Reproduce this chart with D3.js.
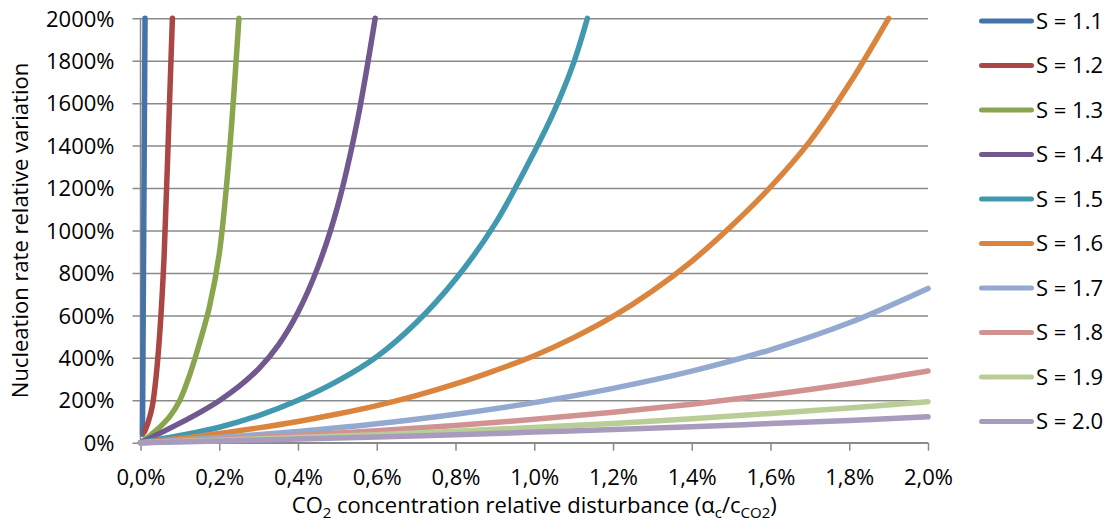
<!DOCTYPE html>
<html>
<head>
<meta charset="utf-8">
<script src="https://cdn.jsdelivr.net/npm/d3@7"></script>
<style>
  html, body { margin: 0; padding: 0; background: #fff; }
  svg { display: block; font-family: "Open Sans", "Liberation Sans", sans-serif; }
</style>
</head>
<body>
<svg id="chart" width="1114" height="529"></svg>
<script>
// ---------- data ----------
const seriesNames = ["S = 1.1","S = 1.2","S = 1.3","S = 1.4","S = 1.5","S = 1.6","S = 1.7","S = 1.8","S = 1.9","S = 2.0"];
const seriesColors = ["#4572A7","#AA4643","#89A54E","#71588F","#4198AF","#DB843D","#93A9CF","#D19392","#B9CD96","#A99BBD"];

// x = CO2 concentration relative disturbance (%), v = nucleation rate relative variation (%)
const xS11 = [0.005, 0.0115];
const vS11 = [40, 2000];
const xS12 = [0.01, 0.02, 0.03, 0.04, 0.05, 0.06, 0.07, 0.081];
const vS12 = [50, 100, 172, 318, 545, 880, 1400, 2000];
const xS13 = [0, 0.025, 0.05, 0.075, 0.1, 0.125, 0.15, 0.175, 0.2, 0.225, 0.25];
const vS13 = [0, 35, 75, 125, 200, 320, 470, 640, 890, 1350, 2000];
const xS14 = [0, 0.05, 0.1, 0.15, 0.2, 0.25, 0.3, 0.35, 0.4, 0.45, 0.5, 0.55, 0.596];
const vS14 = [0, 45, 92, 142, 198, 265, 348, 460, 615, 825, 1110, 1510, 2000];
const xS15 = [0, 0.1, 0.2, 0.3, 0.4, 0.5, 0.6, 0.7, 0.8, 0.9, 1.0, 1.05, 1.1, 1.135];
const vS15 = [0, 34, 73, 128, 200, 290, 405, 565, 770, 1030, 1370, 1560, 1790, 2000];
const xS16 = [0, 0.1, 0.2, 0.3, 0.4, 0.5, 0.6, 0.7, 0.8, 0.9, 1.0, 1.1, 1.2, 1.3, 1.4, 1.5, 1.6, 1.7, 1.8, 1.9];
const vS16 = [0, 20, 44, 70, 100, 135, 175, 222, 277, 340, 410, 495, 595, 715, 855, 1020, 1205, 1420, 1690, 2000];
const xGrid = [0, 0.2, 0.4, 0.6, 0.8, 1.0, 1.2, 1.4, 1.6, 1.8, 2.0];
const vS17 = [0, 24, 53, 89, 134, 189, 256, 337, 438, 565, 727];
const vS18 = [0, 16, 34, 56, 81, 110, 143, 181, 226, 278, 338];
const vS19 = [0, 12, 24, 38, 54, 72, 91, 113, 138, 164, 193];
const vS20 = [0, 8, 17, 27, 38, 50, 62, 75, 90, 105, 122];

const seriesX = [xS11, xS12, xS13, xS14, xS15, xS16, xGrid, xGrid, xGrid, xGrid];
const seriesV = [vS11, vS12, vS13, vS14, vS15, vS16, vS17, vS18, vS19, vS20];

const xTicks = [0, 0.2, 0.4, 0.6, 0.8, 1.0, 1.2, 1.4, 1.6, 1.8, 2.0];
const yTicks = [0, 200, 400, 600, 800, 1000, 1200, 1400, 1600, 1800, 2000];

// ---------- layout ----------
const plot = { left: 140.5, right: 928, top: 18.3, bottom: 442.7 };
const svg = d3.select("#chart");

const x = d3.scaleLinear().domain([0, 2]).range([plot.left, plot.right]);
const y = d3.scaleLinear().domain([0, 2000]).range([plot.bottom, plot.top]);

const gridColor = "#8a8a8a";
const fontSize = 22;

// horizontal gridlines (with left tick extension) via axis
const yAxis = d3.axisLeft(y).tickValues(yTicks)
  .tickSize(-(plot.right - plot.left))
  .tickFormat(d => d + "%");
const gy = svg.append("g").attr("transform", `translate(${plot.left},0)`).call(yAxis);
gy.select(".domain").remove();
gy.selectAll(".tick line").attr("stroke", gridColor).attr("stroke-width", 1.5).attr("x1", -8);
gy.selectAll(".tick text")
  .attr("x", -26).attr("dy", "0.35em")
  .attr("fill", "#000").style("font-size", fontSize + "px")
  .style("font-family", '"Open Sans", sans-serif');

// x axis
const xAxis = d3.axisBottom(x).tickValues(xTicks).tickSize(8)
  .tickFormat(d => d3.format(".1f")(d).replace(".", ",") + "%");
const gx = svg.append("g").attr("transform", `translate(0,${plot.bottom})`).call(xAxis);
gx.select(".domain").attr("stroke", gridColor).attr("stroke-width", 1.5)
  .attr("d", `M${plot.left},0H${plot.right}`);
gx.selectAll(".tick line").attr("stroke", gridColor).attr("stroke-width", 1.5);
gx.selectAll(".tick text")
  .attr("y", 0).attr("dy", 42)
  .attr("fill", "#000").style("font-size", fontSize + "px")
  .style("font-family", '"Open Sans", sans-serif');

// y axis line
svg.append("line")
  .attr("x1", plot.left).attr("x2", plot.left)
  .attr("y1", plot.top).attr("y2", plot.bottom)
  .attr("stroke", gridColor).attr("stroke-width", 1.5);

// series
const line = d3.line().x(d => x(d[0])).y(d => y(d[1])).curve(d3.curveCatmullRom.alpha(0.5));
const gLines = svg.append("g");
seriesNames.forEach((name, i) => {
  const pts = seriesX[i].map((xv, j) => [xv, seriesV[i][j]]);
  gLines.append("path")
    .attr("d", line(pts))
    .attr("fill", "none")
    .attr("stroke", seriesColors[i])
    .attr("stroke-width", 5.5)
    .attr("stroke-linecap", "round")
    .attr("stroke-linejoin", "round");
});

// legend
const legendTop = 21, legendStep = 44.5;
const gLeg = svg.append("g");
seriesNames.forEach((name, i) => {
  const ly = legendTop + i * legendStep;
  gLeg.append("line")
    .attr("x1", 981.5).attr("x2", 1031.5).attr("y1", ly).attr("y2", ly)
    .attr("stroke", seriesColors[i]).attr("stroke-width", 5).attr("stroke-linecap", "round");
  gLeg.append("text")
    .attr("x", 1036).attr("y", ly).attr("dy", "0.35em")
    .style("font-size", fontSize + "px").attr("fill", "#000")
    .text(name);
});

// y axis title
svg.append("text")
  .attr("transform", `translate(28,${(plot.top + plot.bottom) / 2}) rotate(-90)`)
  .attr("text-anchor", "middle")
  .style("font-size", fontSize + "px").attr("fill", "#000")
  .text("Nucleation rate relative variation");

// x axis title with subscripts
const xt = svg.append("text")
  .attr("x", (plot.left + plot.right) / 2).attr("y", 513)
  .attr("text-anchor", "middle")
  .style("font-size", fontSize + "px").attr("fill", "#000");
xt.append("tspan").text("CO");
xt.append("tspan").attr("dy", 5).style("font-size", "15px").text("2");
xt.append("tspan").attr("dy", -5).text(" concentration relative disturbance (α");
xt.append("tspan").attr("dy", 5).style("font-size", "15px").text("c");
xt.append("tspan").attr("dy", -5).text("/c");
xt.append("tspan").attr("dy", 5).style("font-size", "15px").text("CO2");
xt.append("tspan").attr("dy", -5).text(")");
</script>
</body>
</html>
